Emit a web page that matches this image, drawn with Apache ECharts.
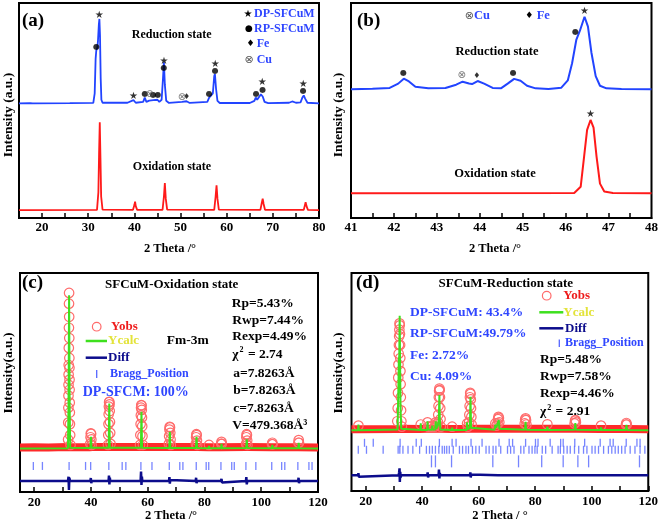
<!DOCTYPE html>
<html><head><meta charset="utf-8">
<script src="https://cdn.jsdelivr.net/npm/echarts@6/dist/echarts.min.js"></script>
<style>html,body{margin:0;padding:0;background:#fff}#c{width:661px;height:526px}</style>
</head><body><div id="c"></div>
<script>
// ---------- DATA ----------
// (a) XRD patterns, 2theta vs intensity (arbitrary, offset)
const aOxidation = [[15,3.7],[31.9,3.8],[32.2,12],[32.35,30],[32.5,44.5],[32.65,28],[32.8,10],[33.1,3.9],[39.7,3.8],[40.0,6],[40.15,7.6],[40.3,5.5],[40.6,3.8],[46.1,3.8],[46.4,10],[46.6,16.3],[46.8,9],[47.1,3.9],[57.3,3.8],[57.6,10],[57.8,15.2],[58.0,9],[58.3,3.9],[67.3,3.8],[67.6,7],[67.8,9.0],[68.0,6.5],[68.3,3.8],[76.7,3.8],[76.95,6],[77.1,7.4],[77.3,5.5],[77.6,3.8],[80,3.7]];
const aReduction = [[15,53.3],[17.4,53.4],[17.7,54.0],[18.0,53.3],[26,53.4],[31.1,53.5],[31.4,58],[31.6,74],[31.75,78],[31.95,79],[32.1,82],[32.3,90],[32.42,92.6],[32.55,85],[32.7,65],[32.85,55],[33.1,53.6],[38.5,53.6],[39.8,54.8],[40.3,53.6],[41.9,54],[42.25,56],[42.6,54],[43.2,54.6],[43.6,53.9],[44.1,54.8],[44.5,54],[45.0,55.0],[45.4,54],[45.9,55],[46.2,65],[46.4,72.4],[46.6,62],[46.9,54.5],[47.5,53.5],[50.3,54],[51.3,54.3],[52,53.5],[55.8,54],[56.2,56],[56.5,55.3],[57.0,58],[57.3,66],[57.45,67],[57.7,60],[58.0,54.5],[58.5,53.5],[65,53.5],[66.0,54.5],[66.3,56],[66.6,55],[67.0,55.5],[67.4,57.5],[67.8,56.5],[68.2,54],[69,53.4],[73.5,53.6],[74.2,54.2],[75,53.6],[76,53.8],[76.4,56],[76.7,57],[77.0,55.5],[77.5,53.6],[80,53.3]];
const aStars = [[32.4,94.4],[39.8,56.7],[46.4,72.7],[57.5,71.5],[67.7,63.1],[76.6,62.3]];
const aDots = [[31.8,79.4],[42.3,57.7],[44.1,57.2],[45.1,57.2],[46.4,69.6],[56.2,57.5],[57.5,68.4],[66.4,57.5],[67.8,59.5],[76.6,58.9]];
const aFe = [[51.3,56.4]];
const aCu = [[43.3,57.4],[50.3,56.0]];

// (b) zoom 41-48
const bReduction = [[41.0,59.9],[41.5,60.1],[41.9,60.5],[42.1,62.5],[42.23,64.8],[42.35,63.5],[42.5,61],[42.8,60.3],[43.2,60.5],[43.45,62],[43.6,63.4],[43.75,62.6],[43.82,62.3],[43.95,63.7],[44.1,62.5],[44.3,60.5],[44.5,60.4],[44.65,62.5],[44.8,64.7],[44.95,63.8],[45.1,61.5],[45.3,60.3],[45.6,60],[45.9,60.6],[46.05,64],[46.15,72],[46.25,83],[46.33,87],[46.44,93.6],[46.52,89],[46.6,77],[46.7,66],[46.8,61.5],[46.95,60.3],[47.3,60],[48,59.9]];
const bOxidation = [[41.0,11.5],[46.2,11.6],[46.35,14.5],[46.43,28.5],[46.5,41],[46.58,45.6],[46.65,42],[46.72,28.5],[46.8,16],[46.9,12.3],[47.1,11.6],[48,11.5]];
const bStars = [[46.44,96.3],[46.58,48.4]];
const bDots = [[42.22,67.6],[44.78,67.4],[46.23,86.7]];
const bFe = [[43.93,65.9]];
const bCu = [[43.58,66.2]];

// (c) Rietveld, oxidation state
const cObs = [[15,20.3],[20,20.4],[25,20.3],[31.8,20.5],[31.95,24],[32.0,31.7],[32.05,38.5],[32.08,44],[32.1,49],[32.13,53.6],[32.16,58],[32.2,65.8],[32.24,75],[32.27,86],[32.3,90.9],[32.33,80],[32.36,70.3],[32.39,61.2],[32.42,56.7],[32.45,51.3],[32.48,46.7],[32.52,40.8],[32.56,36.3],[32.6,31],[32.68,26],[32.8,21.5],[33,20.4],
  [39.5,20.4],[39.75,22],[39.85,25],[39.95,26.8],[40.05,26.5],[40.15,24],[40.25,21.5],[40.5,20.5],
  [45.8,20.6],[46.0,21.5],[46.1,26],[46.18,31],[46.25,35.5],[46.32,39],[46.4,41],[46.47,41.2],[46.55,40],[46.62,37],[46.7,32],[46.78,27],[46.9,22],[47.1,20.6],
  [57.1,20.6],[57.3,21.5],[57.4,26],[57.5,31],[57.58,35],[57.66,38.5],[57.74,39.7],[57.82,39.5],[57.9,37.5],[57.98,34],[58.06,30],[58.15,25.5],[58.3,21.5],[58.5,20.6],
  [67.3,20.5],[67.45,22],[67.55,25.5],[67.65,28.5],[67.75,29.8],[67.85,29.5],[67.95,27],[68.05,24],[68.15,21.5],[68.3,20.5],
  [76.8,20.5],[76.95,22],[77.05,25],[77.15,26.4],[77.25,26],[77.35,23.5],[77.45,21.5],[77.6,20.5],
  [81.3,20.4],[81.6,21.5],[81.9,20.4],[85.7,20.4],[85.9,22],[86.0,22.9],[86.1,22],[86.3,20.4],
  [94.5,20.5],[94.65,22],[94.75,25],[94.85,26.4],[94.95,26],[95.05,23.5],[95.15,21.5],[95.3,20.5],
  [103.6,20.4],[103.8,21.8],[103.9,22.5],[104.0,21.8],[104.2,20.4],[112.9,20.4],[113.1,22.5],[113.2,23.7],[113.3,22.5],[113.5,20.4],[120,20.3]];
const cCalc = [[15,19.9],[31.9,20.0],[32.1,40],[32.2,65],[32.3,89.8],[32.4,65],[32.5,38],[32.7,20.2],[39.8,20.1],[40.0,25.2],[40.2,20.2],[46.25,20.2],[46.45,40.4],[46.65,20.2],[57.6,20.2],[57.8,36.6],[58.0,20.2],[67.6,20.1],[67.8,27.5],[68.0,20.1],[77.0,20.1],[77.2,25.2],[77.4,20.1],[81.45,20.0],[81.6,21],[81.75,20.0],[85.85,20.0],[86.0,22],[86.15,20.0],[94.7,20.1],[94.9,24],[95.1,20.1],[103.75,20.0],[103.9,21.5],[104.05,20.0],[113.05,20.0],[113.2,22.5],[113.35,20.0],[120,19.9]];
const cDiff = [[15,5],[31.9,5],[32.1,7],[32.25,0.9],[32.4,6.5],[32.6,5],[39.8,5],[39.95,6.4],[40.1,4],[40.3,5],[46.2,5],[46.35,7.5],[46.5,3.5],[46.65,6.5],[46.8,5],[57.5,5],[57.65,9.3],[57.8,3.2],[57.95,7],[58.1,5],[67.5,5],[67.65,6.8],[67.8,3.8],[67.95,5.5],[68.1,5],[76.9,5],[77.05,6.5],[77.2,4],[77.4,5],[85.8,5],[86.0,6],[86.2,4.3],[86.4,5],[94.6,5],[94.75,6.8],[94.9,3.5],[95.1,5],[103.7,5],[103.9,5.8],[104.1,4.5],[104.3,5],[113.0,5],[113.15,6.5],[113.3,4],[113.5,5],[120,5]];
const cBragg = [19.7,22.9,32.3,38.1,39.9,46.3,51.0,52.3,57.6,61.5,67.6,71.3,72.4,77.1,80.6,81.5,85.8,89.6,90.5,94.6,98.1,103.7,107.2,108.3,112.9,116.8,117.9];

// (d) Rietveld, reduction state
const dObs = [[15,28.3],[17.2,28.3],[17.45,30],[17.7,28.3],[30.8,28.4],[31.2,32],[31.35,38],[31.45,45],[31.55,52],[31.62,58],[31.7,63],[31.78,67],[31.86,71],[31.93,74],[32.0,76.9],[32.07,76],[32.14,72],[32.2,67],[32.26,61],[32.32,55],[32.38,49],[32.45,43],[32.55,37],[32.65,32],[32.8,29.5],[33,28.5],
  [39.2,28.4],[39.5,30.5],[39.8,28.5],[41.6,28.5],[41.9,31.5],[42.2,29.5],[43.3,29.5],[43.6,30],[44.4,29.5],[44.8,31.5],[45.2,30.5],
  [45.6,31.5],[45.7,35],[45.8,39],[45.9,43],[46.0,46],[46.1,47],[46.2,46.3],[46.3,43],[46.4,38],[46.5,33],[46.62,29.5],[46.8,28.6],
  [50.3,28.4],[50.6,29.5],[50.9,28.4],[55.6,28.5],[55.9,31],[56.2,29.5],
  [56.6,31.5],[56.7,35],[56.8,39],[56.9,43],[57.0,45],[57.1,44.5],[57.2,42],[57.3,38],[57.4,34],[57.5,30.5],[57.7,28.6],
  [65.5,28.5],[65.9,31],[66.3,30],[66.7,31],[66.85,33],[67.0,34],[67.15,33.5],[67.3,31.5],[67.6,28.6],
  [76.0,28.5],[76.3,31],[76.45,32.8],[76.6,33.3],[76.75,32.5],[76.9,30.5],[77.2,28.5],
  [83.8,28.5],[84.3,30.6],[84.8,28.5],[93.7,28.5],[93.95,31],[94.1,32.3],[94.25,32.5],[94.4,31.5],[94.8,28.5],[102.9,28.4],[103.3,30],[103.7,28.4],[111.8,28.4],[112.1,30.5],[112.25,31.2],[112.4,30.5],[112.6,28.4],[120,28.3]];
const dCalc = [[15,27.9],[17.3,27.9],[17.45,30.5],[17.6,27.9],[31.3,28.2],[31.6,48],[31.75,60],[31.9,62],[32.05,80.4],[32.2,58],[32.35,38],[32.6,28.5],[39.35,28],[39.5,31],[39.65,28],[41.75,28],[41.9,32],[42.05,28.2],[43.45,28.1],[43.6,30],[43.75,28.1],[44.65,28.2],[44.8,32],[44.95,28.5],[45.4,28.8],[45.55,30],[45.9,33],[46.1,44],[46.25,33],[46.45,28.2],[50.45,28],[50.6,29],[50.75,28],[55.75,28],[55.9,31.5],[56.1,28.3],[56.9,29],[57.1,43.2],[57.3,29],[65.7,28.1],[65.9,30.5],[66.2,29],[66.9,29.5],[67.1,32.5],[67.35,28.5],[76.4,28.1],[76.6,31.7],[76.8,28.1],[84.1,28],[84.3,29.5],[84.5,28],[94.0,28.1],[94.2,31.2],[94.4,28.1],[103.1,28],[103.3,29.2],[103.5,28],[112.1,28],[112.3,30.3],[112.5,28],[120,27.9]];
const dDiff = [[15,7.2],[17.3,7.2],[17.45,8.2],[17.6,6.5],[17.8,7.2],[31.7,7.2],[31.85,8.5],[32.0,10.4],[32.1,4.1],[32.25,8.8],[32.4,6.2],[32.6,7.2],[39.4,7.2],[39.55,7.9],[39.7,6.7],[39.9,7.2],[41.8,7.2],[41.95,8.5],[42.1,6.2],[42.3,7.2],[44.6,7.2],[44.75,8],[44.9,6.5],[45.1,7.2],[45.8,7.2],[45.95,9.8],[46.1,5.8],[46.25,8.3],[46.4,7.2],[56.9,7.2],[57.05,8.5],[57.2,6.2],[57.35,7.6],[57.5,7.2],[66.9,7.2],[67.05,7.9],[67.2,6.7],[67.4,7.2],[76.4,7.2],[76.55,7.7],[76.7,6.8],[76.9,7.2],[94.0,7.2],[94.15,7.7],[94.3,6.8],[94.5,7.2],[120,7.2]];
const dBraggDP = [19.6,22.7,32.2,37.9,39.7,46.1,50.6,52.0,57.3,61.2,67.2,70.8,72.0,76.6,80.1,81.0,85.3,89.0,89.9,94.0,97.5,103.0,106.5,107.6,112.2,116.0,117.1];
const dBraggRP = [17.4,20.3,26.2,31.5,32.1,33.2,35.0,36.7,39.1,41.5,42.6,43.6,44.7,45.9,47.1,47.9,48.7,49.6,51.0,53.2,54.3,55.5,56.4,57.8,59.0,60.2,62.6,63.7,65.1,66.1,67.8,70.2,71.3,72.5,74.9,76.0,77.8,78.9,79.9,80.7,82.5,83.7,86.0,88.1,88.9,90.1,91.3,92.4,93.9,95.4,97.1,98.3,100.1,101.2,102.4,104.2,105.9,107.1,108.3,109.4,110.6,111.8,113.6,115.3,117.1,118.8];
const dBraggFeCu = [43.3,44.7,50.4,65.0,74.1,82.3,89.9,95.1,98.9,116.9];

// tick labels
const aTicks = [20,25,30,35,40,45,50,55,60,65,70,75,80];
const aLabels = [20,30,40,50,60,70,80];
const bTicks = [41.5,42,42.5,43,43.5,44,44.5,45,45.5,46,46.5,47,47.5];
const bLabels = [41,42,43,44,45,46,47,48];
const cdTicks = [20,30,40,50,60,70,80,90,100,110,120];
const cdLabels = [20,40,60,80,100,120];

// ---------- STYLE / LAYOUT ----------
const SERIF = '"Liberation Serif", "Times New Roman", serif';
const SYM = '"DejaVu Sans", sans-serif';
const BLUE_LINE = '#2244ff', RED_LINE = '#ff1a1a';
const BLUE_TXT = '#2f46ff', BRAGG = '#5566ff', GREEN = '#3ee01e', NAVY = '#0c0c8c', YOBS = '#ff6b6b', BAND = '#ff2a2a', YELLOW = '#e3e33a';

const chart = echarts.init(document.getElementById('c'), null, {renderer: 'canvas'});

const grids = [
  {left: 19, top: 3, width: 300, height: 215},
  {left: 351, top: 3, width: 301, height: 215},
  {left: 20, top: 273, width: 298, height: 219},
  {left: 351.5, top: 273, width: 298.5, height: 218}
].map(g => Object.assign({show: true, borderColor: '#000', borderWidth: 2, backgroundColor: 'transparent'}, g));

function xAx(i, min, max, ticks, labels, margin) {
  return {
    type: 'value', gridIndex: i, min, max,
    axisLine: {show: true, lineStyle: {color: '#000', width: 2}},
    axisTick: {show: true, inside: true, length: 5, lineStyle: {color: '#000', width: 1.5}, customValues: ticks},
    axisLabel: {show: true, customValues: labels, margin, color: '#000',
      fontFamily: SERIF, fontWeight: 'bold', fontSize: 13},
    splitLine: {show: false}
  };
}
function yAx(i) {
  return {type: 'value', gridIndex: i, min: 0, max: 100,
    axisLine: {show: false}, axisTick: {show: false}, axisLabel: {show: false}, splitLine: {show: false}};
}

function line(i, data, color, width, z) {
  return {type: 'line', xAxisIndex: i, yAxisIndex: i, data, showSymbol: false, symbol: 'none',
    lineStyle: {color, width, opacity: 1}, silent: true, animation: false, z: z || 2};
}
function glyph(i, data, ch, size, color) {
  return {type: 'scatter', xAxisIndex: i, yAxisIndex: i, data, symbolSize: 1,
    itemStyle: {color: 'rgba(0,0,0,0)'}, animation: false, silent: true, z: 5,
    label: {show: true, position: 'inside', formatter: ch, color, fontSize: size, fontFamily: SYM}};
}
function bragg(i, xs, yLevel, len) {
  return {type: 'scatter', xAxisIndex: i, yAxisIndex: i, data: xs.map(x => [x, yLevel]),
    symbol: 'rect', symbolSize: [1.3, len], itemStyle: {color: BRAGG}, animation: false, silent: true};
}
function circles(i, data, limit) {
  // observed points that rise above the baseline band
  return {type: 'scatter', xAxisIndex: i, yAxisIndex: i, data: data.filter(p => p[1] >= limit), symbol: 'circle', symbolSize: 9.5,
    itemStyle: {color: 'rgba(255,255,255,0)', borderColor: YOBS, borderWidth: 1.2, opacity: 1},
    animation: false, silent: true, z: 3};
}
function band(i, data, limit) {
  // baseline part of the observed pattern, drawn as the thick red band
  return {type: 'line', xAxisIndex: i, yAxisIndex: i, data: data.filter(p => p[1] < limit),
    showSymbol: false, symbol: 'none', lineStyle: {color: BAND, width: 8, opacity: 1, cap: 'butt'},
    silent: true, animation: false, z: 2};
}

// graphic text helpers
function T(x, y, text, size, color, align, extra) {
  return Object.assign({type: 'text', x, y, z: 100, silent: true,
    style: {text, fill: color || '#000', font: 'bold ' + size + 'px ' + SERIF, align: align || 'left', verticalAlign: 'middle'}}, extra || {});
}
function S(x, y, ch, size, color) {
  return {type: 'text', x, y, z: 100, silent: true,
    style: {text: ch, fill: color || '#000', font: size + 'px ' + SYM, align: 'center', verticalAlign: 'middle'}};
}
function L(x1, y1, x2, y2, color, w) {
  return {type: 'line', z: 100, silent: true, shape: {x1, y1, x2, y2}, style: {stroke: color, lineWidth: w}};
}
function chi(x, y, rest) {
  return {type: 'text', x, y, z: 100, silent: true,
    style: {text: '{a|\u03c7}{s|2}{a|' + rest + '}', align: 'left', verticalAlign: 'middle',
      rich: {a: {font: 'bold 13.5px ' + SERIF, fill: '#000'}, s: {font: 'bold 8px ' + SERIF, fill: '#000', verticalAlign: 'top', padding: [0, 1, 8, 1]}}}};
}

const graphics = [
  // (a)
  T(22, 21.5, '(a)', 19, '#000'),
  T(171.7, 35, 'Reduction state', 12, '#000', 'center'),
  T(172, 167, 'Oxidation state', 12, '#000', 'center'),
  S(248, 14, '\u2605', 10, '#000'), T(254, 14, 'DP-SFCuM', 12, BLUE_TXT),
  S(249, 29, '\u25CF', 9, '#000'), T(254, 29, 'RP-SFCuM', 12, BLUE_TXT),
  S(250.5, 44, '\u2666', 9, '#000'), T(256.7, 44, 'Fe', 12, BLUE_TXT),
  S(249, 60, '\u2297', 11, '#555'), T(256.7, 60, 'Cu', 12, BLUE_TXT),
  T(170, 248.5, '2 Theta /\u00b0', 12.5, '#000', 'center'),
  T(8.5, 115, 'Intensity (a.u.)', 13.5, '#000', 'center', {rotation: Math.PI / 2}),
  // (b)
  T(357, 21.5, '(b)', 19, '#000'),
  S(469.3, 16, '\u2297', 11, '#555'), T(474, 16, 'Cu', 12.5, BLUE_TXT),
  S(529.3, 16, '\u2666', 9, '#000'), T(536.7, 16, 'Fe', 12.5, BLUE_TXT),
  T(497, 51.7, 'Reduction state', 12.5, '#000', 'center'),
  T(495, 174, 'Oxidation state', 12.5, '#000', 'center'),
  T(495, 248.5, '2 Theta /\u00b0', 12.5, '#000', 'center'),
  T(338.5, 115, 'Intensity (a.u.)', 13.5, '#000', 'center', {rotation: Math.PI / 2}),
  // (c)
  T(22, 283, '(c)', 19, '#000'),
  T(171.7, 285, 'SFCuM-Oxidation state', 13, '#000', 'center'),
  {type: 'circle', z: 100, silent: true, shape: {cx: 96.7, cy: 326.7, r: 4.3}, style: {fill: 'none', stroke: YOBS, lineWidth: 1.2}},
  T(111, 326.7, 'Yobs', 13, '#ee1c1c'),
  L(85.7, 341, 107, 341, GREEN, 2.5), T(108, 341, 'Ycalc', 13, YELLOW),
  L(85.7, 357.7, 107, 357.7, NAVY, 2.5), T(108, 357.7, 'Diff', 13, NAVY),
  L(96.7, 370, 96.7, 378, BRAGG, 1.3), T(110, 374, 'Bragg_Position', 12, BLUE_TXT),
  T(82.7, 392.3, 'DP-SFCM: 100%', 14, BLUE_TXT),
  T(166.7, 340.7, 'Fm-3m', 13.5, '#000'),
  T(231.7, 303.3, 'Rp=5.43%', 13.5), T(232.3, 320.7, 'Rwp=7.44%', 13.5), T(232.3, 336.3, 'Rexp=4.49%', 13.5),
  chi(232.3, 354.3, ' = 2.74'),
  T(233.3, 373.3, 'a=7.8263\u00c5', 13.5), T(233.3, 390.7, 'b=7.8263\u00c5', 13.5), T(233.3, 408.3, 'c=7.8263\u00c5', 13.5),
  T(232.3, 425.7, 'V=479.368\u00c5\u00b3', 13.5),
  T(171, 515.5, '2 Theta /\u00b0', 12.5, '#000', 'center'),
  T(8.5, 373, 'Intensity(a.u.)', 13.5, '#000', 'center', {rotation: Math.PI / 2}),
  // (d)
  T(356, 283.3, '(d)', 19, '#000'),
  T(505.8, 283.3, 'SFCuM-Reduction state', 13, '#000', 'center'),
  {type: 'circle', z: 100, silent: true, shape: {cx: 546.7, cy: 295.7, r: 4.3}, style: {fill: 'none', stroke: YOBS, lineWidth: 1.2}},
  T(563.3, 295.7, 'Yobs', 13, '#ee1c1c'),
  L(539.3, 312.3, 563.3, 312.3, GREEN, 2.5), T(563.3, 312.3, 'Ycalc', 13, YELLOW),
  L(539.3, 328.3, 563.3, 328.3, NAVY, 2.5), T(565, 328.3, 'Diff', 13, NAVY),
  L(559.3, 339.5, 559.3, 347, BRAGG, 1.3), T(565, 343.3, 'Bragg_Position', 12, BLUE_TXT),
  T(410, 312.3, 'DP-SFCuM: 43.4%', 13.5, BLUE_TXT),
  T(410, 334, 'RP-SFCuM:49.79%', 13.5, BLUE_TXT),
  T(410, 355.7, 'Fe: 2.72%', 13.5, BLUE_TXT),
  T(410, 376.7, 'Cu: 4.09%', 13.5, BLUE_TXT),
  T(540, 360, 'Rp=5.48%', 13.5), T(540, 376.7, 'Rwp=7.58%', 13.5), T(540, 393.3, 'Rexp=4.46%', 13.5),
  chi(540, 411.7, ' = 2.91'),
  T(500, 515.5, '2 Theta / \u00b0', 12.5, '#000', 'center'),
  T(338.5, 373, 'Intensity(a.u.)', 13.5, '#000', 'center', {rotation: Math.PI / 2})
];

const option = {
  animation: false,
  backgroundColor: '#fff',
  grid: grids,
  xAxis: [
    xAx(0, 15, 80, aTicks, aLabels, 3),
    xAx(1, 41, 48, bTicks, bLabels, 3),
    xAx(2, 15, 120, cdTicks, cdLabels, 4),
    xAx(3, 15, 120, cdTicks, cdLabels, 4)
  ],
  yAxis: [yAx(0), yAx(1), yAx(2), yAx(3)],
  series: [
    line(0, aReduction, BLUE_LINE, 1.8), line(0, aOxidation, RED_LINE, 1.8),
    glyph(0, aStars, '\u2605', 10, '#000'), glyph(0, aDots, '\u25CF', 8, '#000'),
    glyph(0, aFe, '\u2666', 8, '#000'), glyph(0, aCu, '\u2297', 10, '#555'),
    line(1, bReduction, BLUE_LINE, 2), line(1, bOxidation, RED_LINE, 2),
    glyph(1, bStars, '\u2605', 10, '#000'), glyph(1, bDots, '\u25CF', 8, '#000'),
    glyph(1, bFe, '\u2666', 8, '#000'), glyph(1, bCu, '\u2297', 10, '#555'),
    band(2, cObs, 21), circles(2, cObs, 21), line(2, cCalc, GREEN, 2, 4), line(2, cDiff, NAVY, 2.5),
    bragg(2, cBragg, 11.9, 8),
    band(3, dObs, 29), circles(3, dObs, 29), line(3, dCalc, GREEN, 2, 4), line(3, dDiff, NAVY, 2.5),
    bragg(3, dBraggDP, 22.1, 8), bragg(3, dBraggRP, 18.9, 8), bragg(3, dBraggFeCu, 13.6, 12)
  ],
  graphic: graphics
};
chart.setOption(option);
</script></body></html>
